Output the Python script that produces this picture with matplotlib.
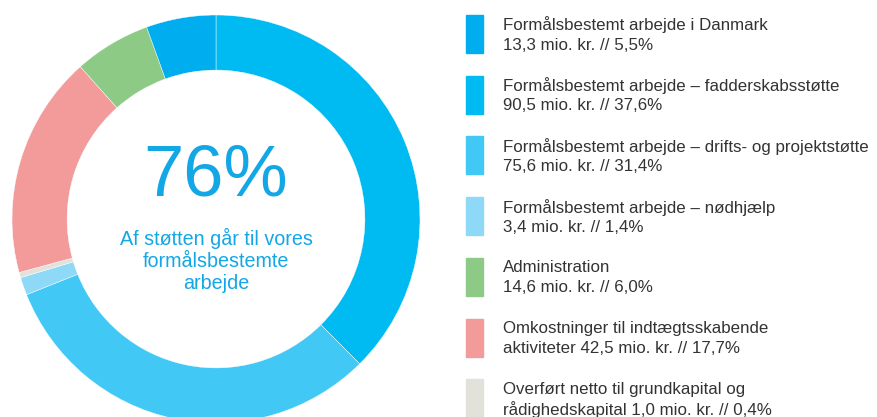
import matplotlib.pyplot as plt
from matplotlib.patches import Rectangle

plt.rcParams['font.family'] = ['Liberation Sans', 'DejaVu Sans']

# legend order
titles = [
    'Formålsbestemt arbejde i Danmark',
    'Formålsbestemt arbejde – fadderskabsstøtte',
    'Formålsbestemt arbejde – drifts- og projektstøtte',
    'Formålsbestemt arbejde – nødhjælp',
    'Administration',
    'Omkostninger til indtægtsskabende',
    'Overført netto til grundkapital og',
]
details = [
    '13,3 mio. kr. // 5,5%',
    '90,5 mio. kr. // 37,6%',
    '75,6 mio. kr. // 31,4%',
    '3,4 mio. kr. // 1,4%',
    '14,6 mio. kr. // 6,0%',
    'aktiviteter 42,5 mio. kr. // 17,7%',
    'rådighedskapital 1,0 mio. kr. // 0,4%',
]
amounts = [13.3, 90.5, 75.6, 3.4, 14.6, 42.5, 1.0]
colors = ['#00aeef', '#00bbf1', '#42c8f4', '#8fd9f8', '#8dca86', '#f39a9b', '#e2e2db']

# order of the slices clockwise from the top
pie_order = [1, 2, 3, 6, 5, 4, 0]

center_big = '76%'
center_small = 'Af støtten går til vores\nformålsbestemte\narbejde'

W, H = 877, 417
fig = plt.figure(figsize=(W / 100, H / 100), dpi=100)
ax = fig.add_axes([0, 0, 1, 1])

cx, cy, r = 216, 219, 204
# y axis is flipped below, so -90 is the top and counterclock runs clockwise
ax.pie([amounts[i] for i in pie_order],
       colors=[colors[i] for i in pie_order],
       startangle=-90, counterclock=True, center=(cx, cy), radius=r,
       wedgeprops=dict(width=r * 0.27, edgecolor='white', linewidth=0.3),
       frame=True)
ax.set_xlim(0, W)
ax.set_ylim(H, 0)
ax.set_aspect('equal')
ax.axis('off')

ax.text(cx, 177, center_big, color='#14a7e6', fontsize=52,
        ha='center', va='center')
ax.text(cx, 260, center_small, color='#14a7e6', fontsize=14.2,
        ha='center', va='center', linespacing=1.2)

step = 60.7
for i, (t, d, c) in enumerate(zip(titles, details, colors)):
    y0 = 15 + i * step
    ax.add_patch(Rectangle((466, y0), 17, 38, color=c))
    ax.text(503, y0 + 10, t, color='#333333', fontsize=12.2, va='center')
    ax.text(503, y0 + 30, d, color='#333333', fontsize=12.2, va='center')

fig.savefig('out.png', dpi=100)
